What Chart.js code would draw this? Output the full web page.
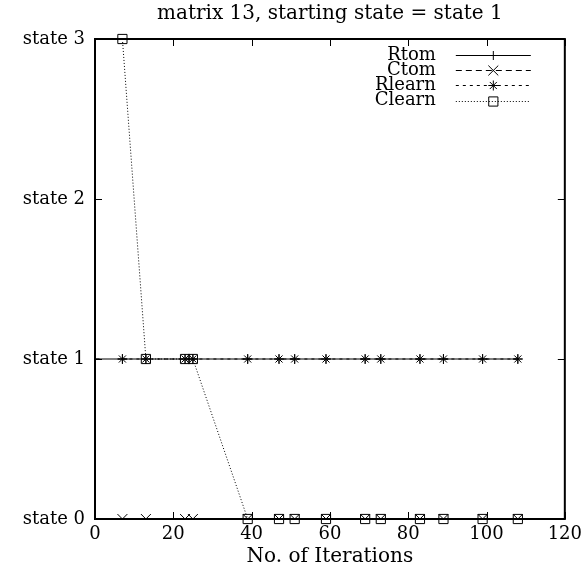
<!DOCTYPE html>
<html>
<head>
<meta charset="utf-8">
<script src="https://cdn.jsdelivr.net/npm/chart.js@4.4.1/dist/chart.umd.min.js"></script>
<style>
  html, body { margin: 0; padding: 0; background: #fff; }
  #wrap { width: 587px; height: 570px; }
</style>
</head>
<body>
<div id="wrap"><canvas id="chart"></canvas></div>
<script>
// iterations where the states were sampled
const iterations = [0, 7, 13, 23, 25, 39, 47, 51, 59, 69, 73, 83, 89, 99, 108];

const rtom   = [1, 1, 1, 1, 1, 1, 1, 1, 1, 1, 1, 1, 1, 1, 1];
const ctom   = [null, 0, 0, 0, 0, 0, 0, 0, 0, 0, 0, 0, 0, 0, 0];
const rlearn = [null, 1, 1, 1, 1, 1, 1, 1, 1, 1, 1, 1, 1, 1, 1];
const clearn = [null, 3, 1, 1, 1, 0, 0, 0, 0, 0, 0, 0, 0, 0, 0];

const stateLabels = ['state 0', 'state 1', 'state 2', 'state 3'];
const seriesNames = ['Rtom', 'Ctom', 'Rlearn', 'Clearn'];

function toPoints(values) {
    return iterations.map((x, i) => ({ x: x, y: values[i] }));
}

Chart.defaults.font.family = "'DejaVu Serif', serif";
Chart.defaults.color = '#000';

// gnuplot style frame with inward ticks on all four sides
const framePlugin = {
    id: 'frame',
    afterDatasetsDraw(chart) {
        const { ctx, chartArea: a, scales } = chart;
        ctx.save();
        ctx.strokeStyle = '#000';
        ctx.setLineDash([]);
        ctx.lineWidth = 2;
        ctx.strokeRect(a.left, a.top, a.width, a.height);
        ctx.lineWidth = 1;
        ctx.beginPath();
        scales.x.ticks.forEach(t => {
            const px = Math.round(scales.x.getPixelForValue(t.value)) + 0.5;
            ctx.moveTo(px, a.bottom); ctx.lineTo(px, a.bottom - 7);
            ctx.moveTo(px, a.top); ctx.lineTo(px, a.top + 7);
        });
        scales.y.ticks.forEach(t => {
            const py = Math.round(scales.y.getPixelForValue(t.value)) + 0.5;
            ctx.moveTo(a.left, py); ctx.lineTo(a.left + 7, py);
            ctx.moveTo(a.right, py); ctx.lineTo(a.right - 7, py);
        });
        ctx.stroke();
        ctx.restore();
    }
};

// key drawn inside the plot, top right
const keyPlugin = {
    id: 'key',
    afterDraw(chart) {
        const { ctx, chartArea: a } = chart;
        const textRight = a.right - 129;
        const lineStart = a.right - 109;
        const lineEnd = a.right - 34;
        ctx.save();
        ctx.font = "18px 'DejaVu Serif', serif";
        ctx.textAlign = 'right';
        ctx.textBaseline = 'middle';
        chart.data.datasets.forEach((ds, i) => {
            const y = a.top + 16 + i * 15.2;
            ctx.fillStyle = '#000';
            ctx.fillText(ds.label, textRight, y);
            ctx.strokeStyle = '#000';
            ctx.lineWidth = 1;
            ctx.setLineDash(ds.borderDash || []);
            ctx.beginPath();
            ctx.moveTo(lineStart, Math.round(y) + 0.5);
            ctx.lineTo(lineEnd, Math.round(y) + 0.5);
            ctx.stroke();
            ctx.setLineDash([]);
            ctx.fillStyle = 'rgba(0,0,0,0)';
            Chart.helpers.drawPoint(ctx, {
                pointStyle: ds.pointStyle,
                radius: ds.pointRadius,
                rotation: 0,
                borderWidth: 1
            }, (lineStart + lineEnd) / 2, Math.round(y) + 0.5);
        });
        ctx.restore();
    }
};

const ctx = document.getElementById('chart').getContext('2d');

new Chart(ctx, {
    type: 'line',
    data: {
        datasets: [
            {
                label: seriesNames[0],
                data: toPoints(rtom),
                borderColor: '#000',
                borderWidth: 1,
                pointStyle: 'cross',
                pointRadius: 4.5,
                pointBorderColor: '#000',
                pointBorderWidth: 1
            },
            {
                label: seriesNames[1],
                data: toPoints(ctom),
                borderColor: '#000',
                borderWidth: 1,
                borderDash: [6, 4],
                pointStyle: 'crossRot',
                pointRadius: 7,
                pointBorderColor: '#000',
                pointBorderWidth: 1
            },
            {
                label: seriesNames[2],
                data: toPoints(rlearn),
                borderColor: '#000',
                borderWidth: 1,
                borderDash: [3, 4],
                pointStyle: 'star',
                pointRadius: 5,
                pointBorderColor: '#000',
                pointBorderWidth: 1
            },
            {
                label: seriesNames[3],
                data: toPoints(clearn),
                borderColor: '#000',
                borderWidth: 1,
                borderDash: [1, 2],
                pointStyle: 'rect',
                pointRadius: 6.5,
                pointBackgroundColor: 'rgba(0,0,0,0)',
                pointBorderColor: '#000',
                pointBorderWidth: 1,
                clip: false
            }
        ]
    },
    options: {
        responsive: true,
        maintainAspectRatio: false,
        animation: false,
        layout: { padding: { top: 0, right: 18, bottom: 0, left: 0 } },
        plugins: {
            legend: { display: false },
            tooltip: { enabled: false },
            title: {
                display: true,
                fullSize: false,
                text: 'matrix 13, starting state = state 1',
                font: { size: 20, weight: 'normal' },
                padding: { top: 2, bottom: 13 }
            }
        },
        scales: {
            x: {
                type: 'linear',
                min: 0,
                max: 120,
                grid: { display: false, drawTicks: false },
                border: { display: false },
                ticks: { stepSize: 20, padding: 5, font: { size: 18 } },
                title: {
                    display: true,
                    text: 'No. of Iterations',
                    font: { size: 20 },
                    padding: { top: 0, bottom: 1 }
                },
                afterFit: scale => { scale.height = 51; }
            },
            y: {
                type: 'linear',
                min: 0,
                max: 3,
                grid: { display: false, drawTicks: false },
                border: { display: false },
                ticks: {
                    stepSize: 1,
                    padding: 10,
                    font: { size: 18 },
                    callback: v => stateLabels[v]
                },
                afterFit: scale => { scale.width = 95; }
            }
        }
    },
    plugins: [framePlugin, keyPlugin]
});
</script>
</body>
</html>
